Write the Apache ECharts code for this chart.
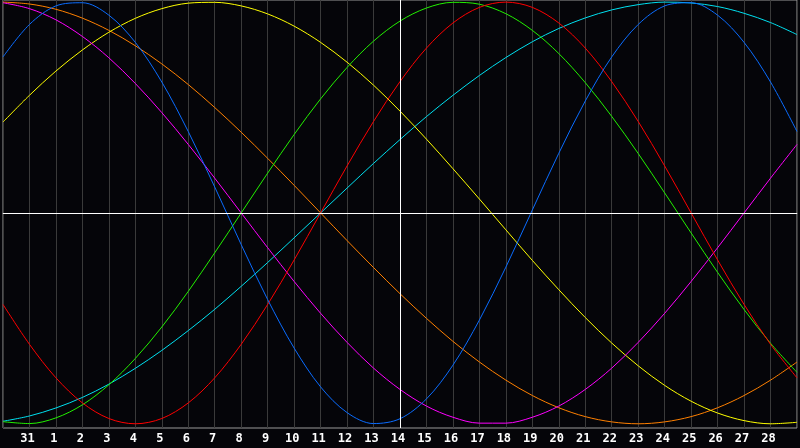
<!DOCTYPE html>
<html>
<head>
<meta charset="utf-8">
<script src="https://cdn.jsdelivr.net/npm/echarts@6/dist/echarts.min.js"></script>
<style>
  html, body { margin: 0; padding: 0; background: #050509; }
  #main { width: 800px; height: 448px; }
</style>
</head>
<body>
<div id="main"></div>
<script>
// day labels (Jan 30 .. Mar 1, end labels hidden)
var days = ['', '31', '1', '2', '3', '4', '5', '6', '7', '8', '9', '10', '11', '12', '13', '14',
  '15', '16', '17', '18', '19', '20', '21', '22', '23', '24', '25', '26', '27', '28', ''];

// cycle values, -100 .. 100, one per day
var physical = [74.0, 89.4, 98.2, 99.7, 93.8, 80.9, 62.1, 38.6, 12.3, -15.0, -41.1, -64.1, -82.5,
  -94.7, -99.9, -97.6, -88.2, -72.2, -50.8, -25.7, 1.4, 28.3, 53.1, 74.0, 89.4, 98.2, 99.7,
  93.8, 80.9, 62.1, 38.6];
var emotional = [-43.4, -62.3, -78.2, -90.1, -97.5, -100, -97.5, -90.1, -78.2, -62.3, -43.4,
  -22.3, 0, 22.3, 43.4, 62.3, 78.2, 90.1, 97.5, 100, 97.5, 90.1, 78.2, 62.3, 43.4, 22.3, 0,
  -22.3, -43.4, -62.3, -78.2];
var intellectual = [-99.0, -99.9, -97.2, -91.0, -81.5, -69.0, -54.1, -37.2, -18.9, 0, 18.9,
  37.2, 54.1, 69.0, 81.5, 91.0, 97.2, 99.9, 99.0, 94.5, 86.6, 75.6, 61.8, 45.8, 28.2, 9.5,
  -9.5, -28.2, -45.8, -61.8, -75.6];
var intuitive = [99.7, 96.9, 91.6, 83.7, 73.6, 61.4, 47.6, 32.5, 16.5, 0, -16.5, -32.5, -47.6,
  -61.4, -73.6, -83.7, -91.6, -96.9, -99.7, -99.7, -96.9, -91.6, -83.7, -73.6, -61.4, -47.6,
  -32.5, -16.5, 0, 16.5, 32.5];
var aesthetic = [43.1, 55.8, 67.3, 77.3, 85.7, 92.3, 96.9, 99.5, 99.9, 98.2, 94.4, 88.6, 80.9,
  71.5, 60.6, 48.3, 35.0, 21.0, 6.6, -8.0, -22.5, -36.4, -49.6, -61.7, -72.5, -81.8, -89.3,
  -94.9, -98.5, -100.0, -99.3];
var awareness = [100, 99.1, 96.6, 92.4, 86.6, 79.3, 70.7, 60.9, 50, 38.3, 25.9, 13.1, 0, -13.1,
  -25.9, -38.3, -50, -60.9, -70.7, -79.3, -86.6, -92.4, -96.6, -99.1, -100, -99.1, -96.6,
  -92.4, -86.6, -79.3, -70.7];
var spiritual = [-98.8, -96.3, -92.5, -87.5, -81.2, -73.7, -65.2, -55.8, -45.7, -34.8, -23.5,
  -11.8, 0, 11.8, 23.5, 34.8, 45.7, 55.8, 65.2, 73.7, 81.2, 87.5, 92.5, 96.3, 98.8, 100.0,
  99.6, 97.9, 94.7, 90.3, 84.6];

var today = '14';

var myChart = echarts.init(document.getElementById('main'));

function curve(name, data, color) {
  return {
    name: name,
    type: 'line',
    data: data,
    smooth: 0.33,
    symbol: 'none',
    lineStyle: { color: color, width: 1 },
    emphasis: { disabled: true }
  };
}

var series = [
  curve('spiritual', spiritual, '#00e0f0'),
  curve('awareness', awareness, '#ff8000'),
  curve('aesthetic', aesthetic, '#ffff00'),
  curve('intuitive', intuitive, '#ff00ff'),
  curve('intellectual', intellectual, '#22f000'),
  curve('emotional', emotional, '#ff0000'),
  curve('physical', physical, '#0a6cff')
];

// today marker + zero line
series[0].markLine = {
  silent: true,
  symbol: 'none',
  label: { show: false },
  lineStyle: { color: '#ffffff', width: 1, type: 'solid' },
  data: [{ xAxis: today }, { yAxis: 0 }]
};

option = {
  backgroundColor: '#050509',
  animation: false,
  grid: {
    left: 0, right: 1, top: 0, bottom: 20,
    show: true,
    borderColor: '#9a9a9a',
    borderWidth: 1,
    backgroundColor: '#050509'
  },
  xAxis: {
    type: 'category',
    data: days,
    boundaryGap: false,
    axisLine: { lineStyle: { color: '#9a9a9a' } },
    axisTick: { show: false },
    axisLabel: {
      interval: 0,
      color: '#ffffff',
      fontFamily: 'DejaVu Sans Mono',
      fontWeight: 'bold',
      fontSize: 12,
      margin: 5,
      padding: [0, 4, 0, 0]
    },
    splitLine: { show: true, lineStyle: { color: '#3a3a3a', width: 1 } }
  },
  yAxis: {
    type: 'value',
    min: -102,
    max: 101,
    show: false,
    splitLine: { show: false }
  },
  series: series
};

myChart.setOption(option);
</script>
</body>
</html>
